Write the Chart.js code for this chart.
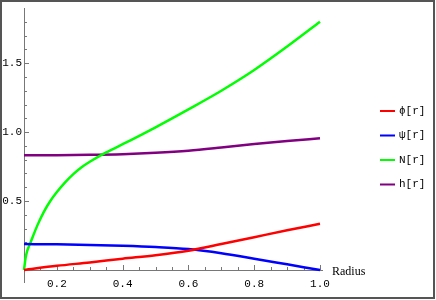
<!DOCTYPE html>
<html>
<head>
<meta charset="utf-8">
<script src="https://cdn.jsdelivr.net/npm/chart.js@4"></script>
<style>
  html, body { margin: 0; padding: 0; background: #fff; }
  #wrap { width: 436px; height: 300px; }
</style>
</head>
<body>
<div id="wrap"><canvas id="fieldChart" width="436" height="300"></canvas></div>
<script>
// Values
const radius = [0.1, 0.2, 0.3, 0.4, 0.5, 0.6, 0.7, 0.8, 0.9, 1.0];
const phiValues = [0, 0.03, 0.055, 0.082, 0.107, 0.14, 0.188, 0.238, 0.288, 0.335];
const psiValues = [0.188, 0.186, 0.182, 0.176, 0.167, 0.152, 0.122, 0.082, 0.041, 0.0];
const hValues = [0.833, 0.833, 0.835, 0.84, 0.85, 0.865, 0.888, 0.913, 0.936, 0.955];

// N rises steeply near r = 0.1, so it is read at more radii
const nRadius = [0.1, 0.105, 0.11, 0.12, 0.14, 0.16, 0.18, 0.2, 0.225, 0.25, 0.275, 0.3, 0.35, 0.4, 0.5, 0.6, 0.7, 0.8, 0.9, 1.0];
const nValues = [0, 0.09, 0.14, 0.2, 0.32, 0.42, 0.50, 0.565, 0.635, 0.695, 0.745, 0.785, 0.853, 0.912, 1.035, 1.165, 1.30, 1.45, 1.62, 1.80];

const seriesLabels = ['\u03d5[r]', '\u03c8[r]', 'N[r]', 'h[r]'];
const seriesColors = ['#ff0000', '#0000ff', '#00ff00', '#800080'];

const xMajorTicks = [0.2, 0.4, 0.6, 0.8, 1.0];
const yMajorTicks = [0.5, 1.0, 1.5];
const xAxisTitle = 'Radius';

function toPoints(xs, ys) {
    return xs.map((x, i) => ({ x: x, y: ys[i] }));
}

const monoFont = '"Liberation Mono", "DejaVu Sans Mono", monospace';

// Mathematica style axes: inward ticks, labels, axis title
const axesPlugin = {
    id: 'mmaAxes',
    beforeDatasetsDraw(chart) {
        const ctx = chart.ctx;
        const xs = chart.scales.x;
        const ys = chart.scales.y;
        const x0 = xs.getPixelForValue(xs.min);
        const x1 = xs.getPixelForValue(xs.max);
        const y0 = ys.getPixelForValue(0);
        const yTop = ys.getPixelForValue(ys.max);

        ctx.save();
        ctx.strokeStyle = '#777';
        ctx.lineWidth = 1;
        ctx.beginPath();
        ctx.moveTo(x0 + 0.5, y0 + 13);
        ctx.lineTo(x0 + 0.5, yTop);
        ctx.moveTo(x0, y0 + 0.5);
        ctx.lineTo(x1 + 3, y0 + 0.5);

        // x ticks every 0.05
        for (let i = 3; i <= 20; i++) {
            const v = i * 0.05;
            const px = Math.round(xs.getPixelForValue(v)) + 0.5;
            const len = (i % 4 === 0) ? 5 : 3;
            ctx.moveTo(px, y0);
            ctx.lineTo(px, y0 - len);
        }
        // y ticks every 0.1
        for (let i = 1; i <= 18; i++) {
            const v = i * 0.1;
            const py = Math.round(ys.getPixelForValue(v)) + 0.5;
            const len = (i % 5 === 0) ? 5 : 3;
            ctx.moveTo(x0, py);
            ctx.lineTo(x0 + len, py);
        }
        ctx.stroke();

        ctx.fillStyle = '#000';
        ctx.font = '11px ' + monoFont;
        ctx.textAlign = 'center';
        ctx.textBaseline = 'middle';
        xMajorTicks.forEach(v => {
            ctx.fillText(v.toFixed(1), xs.getPixelForValue(v), y0 + 14);
        });
        ctx.textAlign = 'right';
        yMajorTicks.forEach(v => {
            ctx.fillText(v.toFixed(1), x0 - 2, ys.getPixelForValue(v));
        });

        ctx.font = '12px "Liberation Serif", "DejaVu Serif", serif';
        ctx.textAlign = 'left';
        ctx.fillText(xAxisTitle, x1 + 12, y0 + 2);
        ctx.restore();
    },
    afterDraw(chart) {
        const ctx = chart.ctx;
        ctx.save();
        // legend on the right
        chart.data.datasets.forEach((ds, i) => {
            const y = 111 + i * 24.5;
            ctx.strokeStyle = ds.borderColor;
            ctx.lineWidth = 2;
            ctx.beginPath();
            ctx.moveTo(380, y);
            ctx.lineTo(395, y);
            ctx.stroke();
            ctx.fillStyle = '#000';
            ctx.font = '11px ' + monoFont;
            ctx.textAlign = 'left';
            ctx.textBaseline = 'middle';
            ctx.fillText(ds.label, 399, y);
        });
        // outer frame
        ctx.strokeStyle = '#555';
        ctx.lineWidth = 2;
        ctx.strokeRect(1, 1, 433, 297);
        ctx.restore();
    }
};

const ctx = document.getElementById('fieldChart').getContext('2d');
const seriesData = [
    toPoints(radius, phiValues),
    toPoints(radius, psiValues),
    toPoints(nRadius, nValues),
    toPoints(radius, hValues)
];

const fieldChart = new Chart(ctx, {
    type: 'line',
    data: {
        datasets: seriesData.map((pts, i) => ({
            label: seriesLabels[i],
            data: pts,
            borderColor: seriesColors[i],
            backgroundColor: seriesColors[i],
            borderWidth: 2.5,
            pointRadius: 0,
            cubicInterpolationMode: 'monotone',
            clip: false,
            fill: false
        }))
    },
    options: {
        responsive: false,
        animation: false,
        layout: {
            padding: { left: 24, right: 116, top: 8, bottom: 30 }
        },
        plugins: {
            legend: { display: false },
            tooltip: { enabled: false }
        },
        scales: {
            x: { type: 'linear', min: 0.1, max: 1.0, display: false },
            y: { type: 'linear', min: 0, max: 1.9, display: false }
        }
    },
    plugins: [axesPlugin]
});
</script>
</body>
</html>
